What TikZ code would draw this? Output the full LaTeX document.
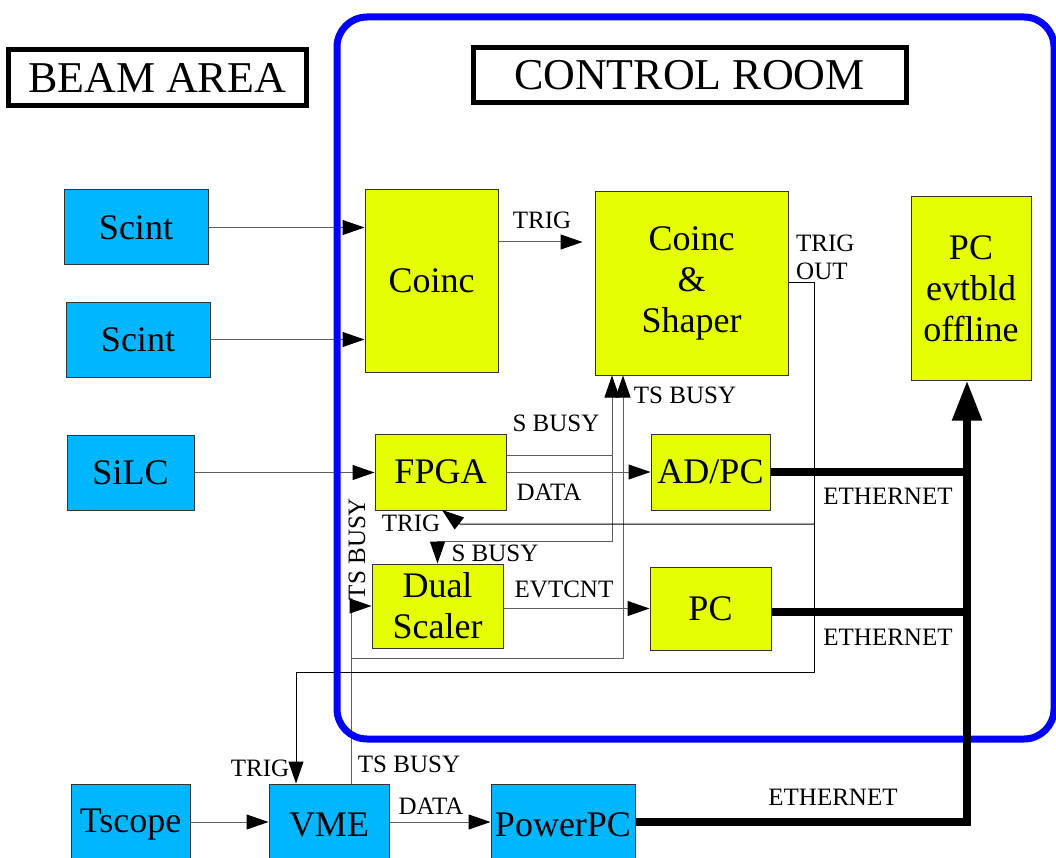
\documentclass[tikz,border=0pt]{standalone}
\usepackage{fontspec}
\setmainfont{Liberation Serif}
\usetikzlibrary{arrows.meta,calc}
\definecolor{boxyellow}{RGB}{230,255,0}
\definecolor{boxcyan}{RGB}{0,183,255}
\definecolor{framebl}{RGB}{0,0,255}
\definecolor{wire}{RGB}{95,95,95}
\tikzset{
 box/.style={draw=black!80, line width=1pt, inner sep=0pt, align=center, font=\fontsize{36}{41}\selectfont},
 ybox/.style={box, fill=boxyellow},
 cbox/.style={box, fill=boxcyan},
 titlebox/.style={draw=black, line width=5pt, inner sep=0pt, font=\fontsize{44}{48}\selectfont},
 lbl/.style={inner sep=0pt, font=\fontsize{25}{28}\selectfont},
 wirel/.style={draw=wire, line width=1pt, -{Triangle[length=22pt,width=15pt,color=black]}},
 plainwire/.style={draw=wire, line width=1pt},
 trigl/.style={draw=black, line width=1pt, -{Triangle[length=22pt,width=15pt,color=black]}},
 eth/.style={draw=black, line width=8pt},
}
\begin{document}
\begin{tikzpicture}[x=1pt,y=-1pt]
\useasboundingbox (0,0) rectangle (1056,858);

% titles
\node[titlebox, minimum width=298pt, minimum height=56pt] (beam) at (157,78) {BEAM AREA};
\node[titlebox, minimum width=433pt, minimum height=55pt] (ctrl) at (689.5,75.5) {CONTROL ROOM};

% beam area boxes
\node[cbox, minimum width=144pt, minimum height=75pt] (s1) at (136,227.5) {Scint};
\node[cbox, minimum width=144pt, minimum height=75pt] (s2) at (138,339.5) {Scint};
\node[cbox, minimum width=127pt, minimum height=75pt] (si) at (130.5,472.5) {SiLC};
\node[cbox, minimum width=119pt, minimum height=82pt] (ts) at (130.5,825) {Tscope};
\node[cbox, minimum width=120pt, minimum height=82pt] (vme) at (329,825) {VME};
\node[cbox, minimum width=144pt, minimum height=82pt] (pp) at (563,825) {PowerPC};

% control room boxes
\node[ybox, minimum width=133pt, minimum height=182pt] (co) at (431.5,281) {Coinc};
\node[ybox, minimum width=193pt, minimum height=183pt] (cs) at (691.5,283.5) {Coinc\\\&\\Shaper};
\node[ybox, minimum width=120pt, minimum height=183pt] (ev) at (971,288.5) {PC\\evtbld\\offline};
\node[ybox, minimum width=131pt, minimum height=76pt] (fp) at (440.5,472) {FPGA};
\node[ybox, minimum width=119pt, minimum height=76pt] (ad) at (710.5,472) {AD/PC};
\node[ybox, minimum width=131pt, minimum height=84pt] (ds) at (437.5,606) {Dual\\Scaler};
\node[ybox, minimum width=121pt, minimum height=83pt] (pc) at (710.5,608.5) {PC};

% routing points
\coordinate (yT) at (0,242);
\coordinate (sb) at (612,455);
\coordinate (sb2) at (612,541);
\coordinate (tb) at (351,658);
\coordinate (tbx) at (623,658);
\coordinate (dl) at (0,822);
\coordinate (to) at (814,283);
\coordinate (tr) at (814,672);
\coordinate (tv) at (296,672);
\coordinate (tf) at (814,524);
\coordinate (tfb) at (460,524);
\coordinate (tfe) at (442,510);
\coordinate (eth) at (967,822);
\coordinate (e2) at (967,612);

% thin connectors
\draw[wirel] (s1.east) -- (s1.east -| co.west);
\draw[wirel] (s2.east) -- (s2.east -| co.west);
\draw[wirel] (si.east) -- (si.east -| fp.west);
\draw[wirel, shorten >=12pt] (co.east |- yT) -- (cs.west |- yT);
\draw[wirel] (fp.east) -- (fp.east -| ad.west);
\draw[wirel] (fp.east |- sb) -- (sb) -- (sb |- cs.south);
\draw[wirel] (sb) -- (sb2) -| (ds.north);
\draw[wirel] (vme.north -| tb) -- (tb |- ds.west) -- (ds.west);
\draw[wirel] (tb) -- (tbx) -- (tbx |- cs.south);
\draw[wirel] (ds.east |- pc.west) -- (pc.west);
\draw[wirel] (ts.east |- dl) -- (vme.west |- dl);
\draw[wirel] (vme.east |- dl) -- (pp.west |- dl);
\draw[trigl] (cs.east |- to) -- (to) -- (tr) -- (tv) -- (tv |- vme.north);
\draw[trigl] (tf) -- (tfb) -- (tfe);

% control room frame
\draw[framebl, line width=7pt, rounded corners=30pt] (337,17) rectangle (1054,739);

% ethernet
\draw[eth, -{Triangle[length=40pt,width=28pt]}] (pp.east |- eth) -- (eth) -- (eth |- ev.south);
\draw[eth] (ad.east) -- (ad.east -| eth);
\draw[eth] (pc.east |- e2) -- (e2);

% labels
\node[lbl] (l1) at (542,220) {TRIG};
\node[lbl, anchor=west] (l2) at (796,243) {TRIG};
\node[lbl, anchor=west] (l3) at (796,271) {OUT};
\node[lbl] (l4) at (556,423) {S BUSY};
\node[lbl] (l5) at (549,492) {DATA};
\node[lbl] (l6) at (685,395) {TS BUSY};
\node[lbl] (l7) at (411,523) {TRIG};
\node[lbl] (l8) at (495,553) {S BUSY};
\node[lbl, rotate=90] (l9) at (357,549) {TS BUSY};
\node[lbl] (l10) at (564,589) {EVTCNT};
\node[lbl] (l11) at (888,496) {ETHERNET};
\node[lbl] (l12) at (888,637) {ETHERNET};
\node[lbl] (l13) at (833,797) {ETHERNET};
\node[lbl] (l14) at (260,768) {TRIG};
\node[lbl] (l15) at (409,764) {TS BUSY};
\node[lbl] (l16) at (431,806) {DATA};
\end{tikzpicture}
\end{document}
